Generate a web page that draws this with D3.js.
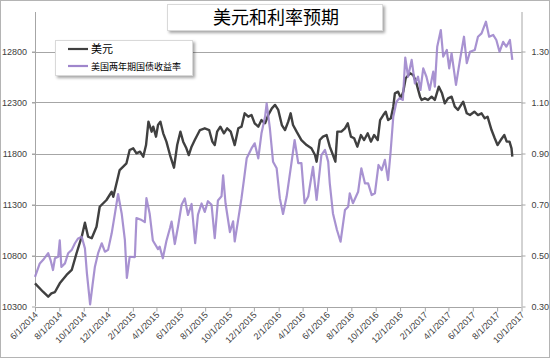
<!DOCTYPE html>
<html><head><meta charset="utf-8">
<script src="https://cdn.jsdelivr.net/npm/d3@7"></script>
<style>html,body{margin:0;padding:0;background:#fff;}svg{display:block;}</style>
</head><body>
<script>
// ---- data ----
const titleText = "美元和利率预期";
const seriesNames = ["美元", "美国两年期国债收益率"];
const leftTicks = [10300, 10800, 11300, 11800, 12300, 12800];
const rightTicks = [0.30, 0.50, 0.70, 0.90, 1.10, 1.30];

const usdDates = ["2014-06-01","2014-06-21","2014-07-04","2014-07-12","2014-07-21","2014-08-02","2014-08-19","2014-09-01","2014-09-13","2014-09-26","2014-10-04","2014-10-12","2014-10-21","2014-11-02","2014-11-10","2014-11-27","2014-12-10","2014-12-14","2014-12-26",
"2014-12-30","2015-01-16","2015-01-24","2015-02-02","2015-02-10","2015-02-19","2015-02-27","2015-03-06","2015-03-12","2015-03-20","2015-03-24","2015-03-31","2015-04-05","2015-04-11","2015-04-18","2015-04-26","2015-05-05","2015-05-15","2015-05-23","2015-05-31","2015-06-07","2015-06-15","2015-06-21","2015-06-28","2015-07-06","2015-07-19","2015-07-31","2015-08-11","2015-08-19","2015-08-25","2015-08-31","2015-09-08","2015-09-17","2015-09-25","2015-10-04","2015-10-14","2015-10-23","2015-10-31","2015-11-08","2015-11-17","2015-11-25","2015-12-03","2015-12-12","2015-12-20","2015-12-29",
"2016-01-06","2016-01-15","2016-01-23","2016-01-31","2016-02-09","2016-02-17","2016-02-25","2016-03-02","2016-03-08","2016-03-17","2016-03-29","2016-04-11","2016-04-23","2016-05-02","2016-05-06","2016-05-14","2016-05-22","2016-05-31","2016-06-08","2016-06-16","2016-06-22","2016-06-27","2016-07-07","2016-07-16","2016-07-23","2016-07-31","2016-08-08","2016-08-16","2016-08-25","2016-09-02","2016-09-11","2016-09-19","2016-09-27","2016-10-06","2016-10-12","2016-10-20","2016-10-26","2016-11-01","2016-11-08","2016-11-14","2016-11-18","2016-11-26","2016-12-03","2016-12-09","2016-12-15","2016-12-26",
"2017-01-03","2017-01-11","2017-01-20","2017-01-24","2017-02-01","2017-02-09","2017-02-18","2017-02-26","2017-03-08","2017-03-16","2017-03-23","2017-03-31","2017-04-09","2017-04-17","2017-04-25","2017-05-08","2017-05-17","2017-05-25","2017-06-05","2017-06-14","2017-06-23","2017-07-01","2017-07-08","2017-07-18","2017-07-26","2017-08-02","2017-08-10","2017-08-19","2017-08-25","2017-09-01","2017-09-06","2017-09-08"];
const usdValues = [10527,10445,10396,10429,10442,10527,10609,10658,10822,10984,11122,10984,10969,11082,11278,11344,11425,11376,11572,
11638,11704,11834,11851,11802,11818,11769,11883,12112,12014,12063,11965,12079,12112,11998,11916,11785,11661,11883,12014,11916,11851,11785,11867,11932,12030,12047,12030,11916,11883,12014,12063,11998,12047,12014,11883,12047,12063,12194,12161,12177,12096,12063,12128,12096,
12177,12243,12276,12227,12079,12030,12112,12194,12079,12014,11932,11883,11851,11785,11720,11932,11965,11981,11867,11785,11720,12014,12014,12047,12096,11965,11949,11867,11981,11932,11998,11916,11981,11932,12128,12177,12210,12128,12145,12259,12390,12406,12341,12406,12537,12586,
12570,12488,12357,12325,12341,12325,12357,12325,12455,12390,12292,12341,12357,12259,12227,12308,12194,12177,12210,12177,12194,12145,12161,12030,11949,11883,11932,11981,11916,11916,11851,11769];

const yieldDates = ["2014-06-01","2014-06-13","2014-06-21","2014-07-04","2014-07-10","2014-07-16","2014-07-21","2014-07-29","2014-08-02","2014-08-06","2014-08-15","2014-08-23","2014-09-01","2014-09-09","2014-09-17","2014-09-26","2014-10-04","2014-10-09","2014-10-17","2014-10-23","2014-10-29","2014-11-06","2014-11-15","2014-11-23","2014-12-01","2014-12-10","2014-12-18","2014-12-26","2015-01-04","2015-01-12","2015-01-17","2015-01-24","2015-02-06","2015-02-10","2015-02-23","2015-03-03","2015-03-07","2015-03-15","2015-03-23","2015-04-05","2015-04-09","2015-04-17","2015-04-26","2015-05-05","2015-05-09","2015-05-17","2015-05-25","2015-06-03","2015-06-11","2015-06-19","2015-06-28","2015-07-07","2015-07-14","2015-07-23","2015-07-31","2015-08-08","2015-08-17","2015-08-25","2015-09-02","2015-09-11","2015-09-15","2015-09-21","2015-10-02","2015-10-10","2015-10-14","2015-10-22","2015-10-31","2015-11-06","2015-11-13","2015-11-25","2015-12-03","2015-12-12","2015-12-20","2015-12-29","2016-01-02","2016-01-10","2016-01-18","2016-01-27","2016-02-04","2016-02-12","2016-02-21","2016-03-04","2016-03-12","2016-03-21","2016-03-29","2016-04-06","2016-04-15","2016-04-27","2016-05-06","2016-05-18","2016-05-27","2016-06-04","2016-06-08","2016-06-16","2016-06-26","2016-07-05","2016-07-16","2016-07-24","2016-07-28","2016-08-05","2016-08-18","2016-08-26","2016-09-04","2016-09-12","2016-09-21","2016-09-29","2016-10-08","2016-10-16","2016-10-24","2016-11-01","2016-11-07","2016-11-14","2016-11-22","2016-11-30","2016-12-08","2016-12-14","2016-12-21","2016-12-30","2017-01-07","2017-01-15","2017-01-21","2017-01-28","2017-02-05","2017-02-13","2017-02-22","2017-02-26","2017-03-04","2017-03-13","2017-03-19","2017-03-28","2017-04-03","2017-04-09","2017-04-20","2017-04-30","2017-05-10","2017-05-17","2017-05-25","2017-06-06","2017-06-14","2017-06-23","2017-07-04","2017-07-12","2017-07-22","2017-07-30","2017-08-07","2017-08-16","2017-08-24","2017-09-02","2017-09-08"];
const yieldValues = [0.416,0.469,0.482,0.509,0.482,0.443,0.489,0.495,0.559,0.455,0.469,0.509,0.522,0.548,0.567,0.573,0.528,0.430,0.308,0.384,0.456,0.509,0.548,0.515,0.522,0.587,0.663,0.741,0.665,0.561,0.412,0.495,0.494,0.647,0.639,0.631,0.725,0.665,0.559,0.525,0.535,0.489,0.557,0.608,0.633,0.545,0.613,0.699,0.724,0.659,0.702,0.548,0.660,0.704,0.671,0.713,0.699,0.568,0.716,0.732,0.814,0.705,0.592,0.634,0.555,0.634,0.725,0.796,0.881,0.920,0.940,0.881,0.979,1.044,1.097,0.999,0.868,0.842,0.724,0.663,0.731,0.862,0.953,0.862,0.862,0.705,0.731,0.848,0.718,0.894,0.914,0.868,0.783,0.665,0.600,0.554,0.678,0.691,0.744,0.705,0.750,0.842,0.783,0.783,0.737,0.744,0.855,0.835,0.875,0.796,0.901,1.044,1.103,1.118,1.110,1.276,1.201,1.267,1.175,1.201,1.149,1.234,1.201,1.149,1.221,1.162,1.319,1.384,1.280,1.306,1.234,1.293,1.169,1.267,1.358,1.254,1.299,1.306,1.358,1.371,1.417,1.358,1.365,1.345,1.299,1.338,1.319,1.345,1.267];

const xStart = "2014-06-01", xEnd = "2017-10-01";

// ---- drawing ----
const W = 550, H = 358;
const parse = d3.timeParse("%Y-%m-%d");
const plot = {left: 35, right: 521.5, top: 12, bottom: 306.5};

const x = d3.scaleTime().domain([parse(xStart), parse(xEnd)]).range([plot.left, plot.right]);
const yL = d3.scaleLinear().domain([10300, 12800]).range([plot.bottom, 51.5]);
const yR = d3.scaleLinear().domain([0.30, 1.30]).range([plot.bottom, 51.5]);

const svg = d3.select("body").append("svg").attr("width", W).attr("height", H);
const defs = svg.append("defs");
const f = defs.append("filter").attr("id","sh").attr("x","-10%").attr("y","-10%").attr("width","130%").attr("height","150%");
f.append("feDropShadow").attr("dx",2).attr("dy",2).attr("stdDeviation",1.5).attr("flood-color","#000").attr("flood-opacity",0.35);

svg.append("rect").attr("x",0.5).attr("y",0.5).attr("width",W-1).attr("height",H-1)
  .attr("fill","#fff").attr("stroke","#b4b4b4");

const font = "'Liberation Sans','Noto Sans CJK SC',sans-serif";
const cjk = "'Noto Sans CJK SC',sans-serif";

// gridlines
svg.append("g").selectAll("line").data(leftTicks.slice(1)).join("line")
  .attr("x1", plot.left - 3).attr("x2", plot.right)
  .attr("y1", d => Math.round(yL(d)) + 0.5).attr("y2", d => Math.round(yL(d)) + 0.5)
  .attr("stroke", "#a6a6a6").attr("stroke-width", 1);

// left axis
const gL = svg.append("g").attr("transform", `translate(${plot.left},0)`)
  .call(d3.axisLeft(yL).tickValues(leftTicks).tickSize(3).tickPadding(5).tickFormat(d3.format("d")));
gL.select(".domain").remove();
gL.append("line").attr("x1",0.5).attr("x2",0.5).attr("y1",plot.top).attr("y2",plot.bottom).attr("stroke","#a6a6a6");
gL.selectAll(".tick line").attr("stroke","#a6a6a6");
gL.selectAll("text").attr("font-family", font).attr("font-size", 9).attr("fill","#404040");

// right axis
const gR = svg.append("g").attr("transform", `translate(${plot.right},0)`)
  .call(d3.axisRight(yR).tickValues(rightTicks).tickSize(4).tickPadding(6).tickFormat(d3.format(".2f")));
gR.select(".domain").remove();
gR.append("line").attr("x1",0.5).attr("x2",0.5).attr("y1",plot.top).attr("y2",plot.bottom).attr("stroke","#a6a6a6");
gR.selectAll(".tick line").attr("stroke","#a6a6a6");
gR.selectAll("text").attr("font-family", font).attr("font-size", 9).attr("fill","#404040");

// bottom axis: every second month starting from June 2014
const xTicks = d3.timeMonth.range(parse(xStart), d3.timeDay.offset(parse(xEnd), 1), 2);
const gB = svg.append("g").attr("transform", `translate(0,${Math.round(plot.bottom)+0.5})`)
  .call(d3.axisBottom(x).tickValues(xTicks).tickSize(4).tickFormat(d3.timeFormat("%-m/%-d/%Y")));
gB.select(".domain").attr("stroke","#a6a6a6").attr("d", `M${plot.left},0H${plot.right}`);
gB.selectAll(".tick line").attr("stroke","#a6a6a6");
gB.selectAll("text").attr("font-family", font).attr("font-size", 9).attr("fill","#404040")
  .attr("text-anchor","end").attr("dy", 0).attr("y", 0)
  .attr("transform","translate(3,8) rotate(-45)");

// lines
const usd = usdDates.map((d,i) => ({date: parse(d), v: usdValues[i]}));
const yl = yieldDates.map((d,i) => ({date: parse(d), v: yieldValues[i]}));
svg.append("path").datum(usd).attr("fill","none").attr("stroke","#404040").attr("stroke-width",2.4)
  .attr("stroke-linejoin","round")
  .attr("d", d3.line().x(d => x(d.date)).y(d => yL(d.v)));
svg.append("path").datum(yl).attr("fill","none").attr("stroke","#9f86cc").attr("stroke-width",2.2)
  .attr("stroke-linejoin","round").attr("opacity",0.9)
  .attr("d", d3.line().x(d => x(d.date)).y(d => yR(d.v)));

// title box
const tb = svg.append("g");
tb.append("rect").attr("x",167.5).attr("y",4.5).attr("width",215).attr("height",26)
  .attr("fill","#fff").attr("stroke","#d9d9d9").attr("filter","url(#sh)");
tb.append("text").attr("x",276).attr("y",24).attr("text-anchor","middle")
  .attr("font-family",cjk).attr("font-size",18).attr("fill","#000").text(titleText);

// legend
const lg = svg.append("g");
lg.append("rect").attr("x",55.5).attr("y",40.5).attr("width",137).attr("height",35)
  .attr("fill","#fff").attr("stroke","#d9d9d9").attr("filter","url(#sh)");
const colors = ["#404040","#9f86cc"];
seriesNames.forEach((n,i) => {
  const yy = 49 + i*17;
  lg.append("line").attr("x1",68).attr("x2",88).attr("y1",yy).attr("y2",yy)
    .attr("stroke",colors[i]).attr("stroke-width",2.2);
  lg.append("text").attr("x",91).attr("y",yy+4).attr("font-family",cjk)
    .attr("font-size", i===0 ? 11 : 9).attr("fill","#000").text(n);
});
</script>
</body></html>
